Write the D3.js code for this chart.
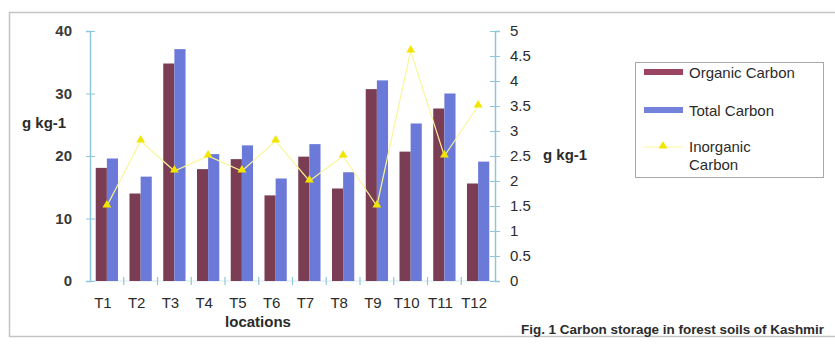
<!DOCTYPE html>
<html>
<head>
<meta charset="utf-8">
<script src="https://cdn.jsdelivr.net/npm/d3@7"></script>
<style>
  body { margin: 0; background: #fff; }
  svg { display: block; font-family: "Liberation Sans", Arial, sans-serif; }
</style>
</head>
<body>
<svg id="chart"></svg>
<script>
const width = 835;
const height = 344;
const margin = { top: 31, bottom: 63, left: 90, right: 340 };

// data
const locations = ["T1", "T2", "T3", "T4", "T5", "T6", "T7", "T8", "T9", "T10", "T11", "T12"];
const organicCarbon = [18.1, 14.0, 34.8, 17.9, 19.5, 13.7, 19.9, 14.8, 30.7, 20.7, 27.6, 15.6];
const totalCarbon = [19.6, 16.7, 37.1, 20.3, 21.7, 16.4, 21.9, 17.4, 32.1, 25.2, 30.0, 19.1];
const inorganicCarbon = [1.5, 2.8, 2.2, 2.5, 2.2, 2.8, 2.0, 2.5, 1.5, 4.6, 2.5, 3.5];
const leftTicks = [0, 10, 20, 30, 40];
const rightTicks = [0, 0.5, 1, 1.5, 2, 2.5, 3, 3.5, 4, 4.5, 5];

const organicColor = "#7a3d53";
const totalColor = "#6b79d8";
const axisColor = "#8fc6dc";
const textColor = "#2b2b2b";

const svg = d3.select("#chart")
    .attr("width", width)
    .attr("height", height);

// scanned page frame
svg.append("rect")
    .attr("x", 9.5)
    .attr("y", 12.5)
    .attr("width", 840)
    .attr("height", 324)
    .attr("fill", "none")
    .attr("stroke", "#c4c4c4")
    .attr("stroke-width", 1.5);

const xScale = d3.scaleBand()
    .domain(locations)
    .range([margin.left, width - margin.right])
    .paddingInner(0.34)
    .paddingOuter(0.17);

const xSub = d3.scaleBand()
    .domain(["organic", "total"])
    .range([0, xScale.bandwidth()]);

const yLeft = d3.scaleLinear()
    .domain([0, 40])
    .range([height - margin.bottom, margin.top]);

const yRight = d3.scaleLinear()
    .domain([0, 5])
    .range([height - margin.bottom, margin.top]);

const baseY = height - margin.bottom;
const step = xScale.step();

// faint baseline and separator ticks
svg.append("line")
    .attr("x1", margin.left)
    .attr("x2", width - margin.right)
    .attr("y1", baseY)
    .attr("y2", baseY)
    .attr("stroke", "#d6e9f0")
    .attr("stroke-width", 1);

svg.append("g")
    .selectAll("line")
    .data(d3.range(1, locations.length))
    .join("line")
    .attr("x1", d => margin.left + step * d)
    .attr("x2", d => margin.left + step * d)
    .attr("y1", baseY - 4)
    .attr("y2", baseY + 4)
    .attr("stroke", axisColor)
    .attr("stroke-width", 1.2);

// bars
const rows = locations.map((name, i) => ({
    name,
    values: [
        { key: "organic", value: organicCarbon[i], color: organicColor },
        { key: "total", value: totalCarbon[i], color: totalColor }
    ]
}));

svg.append("g")
    .selectAll("g")
    .data(rows)
    .join("g")
    .attr("transform", d => `translate(${xScale(d.name)},0)`)
    .selectAll("rect")
    .data(d => d.values)
    .join("rect")
    .attr("x", d => xSub(d.key))
    .attr("y", d => yLeft(d.value))
    .attr("width", xSub.bandwidth())
    .attr("height", d => yLeft(0) - yLeft(d.value))
    .attr("fill", d => d.color);

// left axis
const leftAxis = svg.append("g")
    .attr("transform", `translate(${margin.left},0)`)
    .call(d3.axisLeft(yLeft).tickValues(leftTicks).tickSize(4).tickPadding(14));
leftAxis.select(".domain").attr("stroke", axisColor).attr("stroke-width", 1.5);
leftAxis.selectAll(".tick line").attr("x2", -4).attr("x1", 5).attr("stroke", axisColor);
leftAxis.selectAll(".tick text")
    .attr("font-size", "15px")
    .attr("font-weight", "bold")
    .attr("fill", "#3a3a3a");

// right axis
const rightAxis = svg.append("g")
    .attr("transform", `translate(${width - margin.right},0)`)
    .call(d3.axisRight(yRight).tickValues(rightTicks).tickFormat(d => String(d)).tickSize(5).tickPadding(10));
rightAxis.select(".domain").attr("stroke", axisColor).attr("stroke-width", 1.5);
rightAxis.selectAll(".tick line").attr("x1", -5).attr("x2", 5).attr("stroke", axisColor);
rightAxis.selectAll(".tick text")
    .attr("font-size", "15px")
    .attr("fill", textColor);

// bottom axis labels
const bottomAxis = svg.append("g")
    .attr("transform", `translate(-4,${baseY})`)
    .call(d3.axisBottom(xScale).tickSize(0).tickPadding(16));
bottomAxis.select(".domain").remove();
bottomAxis.selectAll(".tick text")
    .attr("font-size", "15px")
    .attr("fill", textColor);

// inorganic carbon line
const points = locations.map((name, i) => ({ name, value: inorganicCarbon[i] }));

svg.append("path")
    .datum(points)
    .attr("fill", "none")
    .attr("stroke", "#fbf59a")
    .attr("stroke-width", 1.2)
    .attr("d", d3.line()
        .x(d => xScale(d.name) + xScale.bandwidth() / 2)
        .y(d => yRight(d.value)));

svg.append("g")
    .selectAll("path")
    .data(points)
    .join("path")
    .attr("transform", d => `translate(${xScale(d.name) + xScale.bandwidth() / 2},${yRight(d.value) - 1})`)
    .attr("d", d3.symbol(d3.symbolTriangle, 34))
    .attr("fill", "#f2e600");

// axis titles
svg.append("text")
    .attr("x", 22)
    .attr("y", 128)
    .attr("font-size", "15px")
    .attr("font-weight", "bold")
    .attr("fill", textColor)
    .text("g kg-1");

svg.append("text")
    .attr("x", 543)
    .attr("y", 160)
    .attr("font-size", "15px")
    .attr("font-weight", "bold")
    .attr("fill", textColor)
    .text("g kg-1");

svg.append("text")
    .attr("x", 258)
    .attr("y", 327)
    .attr("text-anchor", "middle")
    .attr("font-size", "15px")
    .attr("font-weight", "bold")
    .attr("fill", textColor)
    .text("locations");

// caption
svg.append("text")
    .attr("x", 521)
    .attr("y", 334)
    .attr("font-size", "13px")
    .attr("font-weight", "bold")
    .attr("fill", textColor)
    .attr("textLength", 303)
    .attr("lengthAdjust", "spacingAndGlyphs")
    .text("Fig. 1 Carbon storage in forest soils of Kashmir");

// legend
const legend = svg.append("g");

legend.append("rect")
    .attr("x", 635.5)
    .attr("y", 62.5)
    .attr("width", 188)
    .attr("height", 115)
    .attr("fill", "#fff")
    .attr("stroke", "#a8a8a8");

legend.append("rect")
    .attr("x", 644).attr("y", 69)
    .attr("width", 39).attr("height", 6)
    .attr("fill", "#9a4560");

legend.append("rect")
    .attr("x", 644).attr("y", 107)
    .attr("width", 39).attr("height", 6)
    .attr("fill", "#7482dc");

legend.append("line")
    .attr("x1", 644).attr("x2", 683)
    .attr("y1", 147).attr("y2", 147)
    .attr("stroke", "#fbf59a")
    .attr("stroke-width", 1.2);

legend.append("path")
    .attr("transform", "translate(663,146)")
    .attr("d", d3.symbol(d3.symbolTriangle, 34))
    .attr("fill", "#f2e600");

const legendText = [
    { label: "Organic Carbon", y: 78 },
    { label: "Total Carbon", y: 116 },
    { label: "Inorganic", y: 152 },
    { label: "Carbon", y: 170 }
];

legend.selectAll("text")
    .data(legendText)
    .join("text")
    .attr("x", 689)
    .attr("y", d => d.y)
    .attr("font-size", "15px")
    .attr("fill", textColor)
    .text(d => d.label);
</script>
</body>
</html>
